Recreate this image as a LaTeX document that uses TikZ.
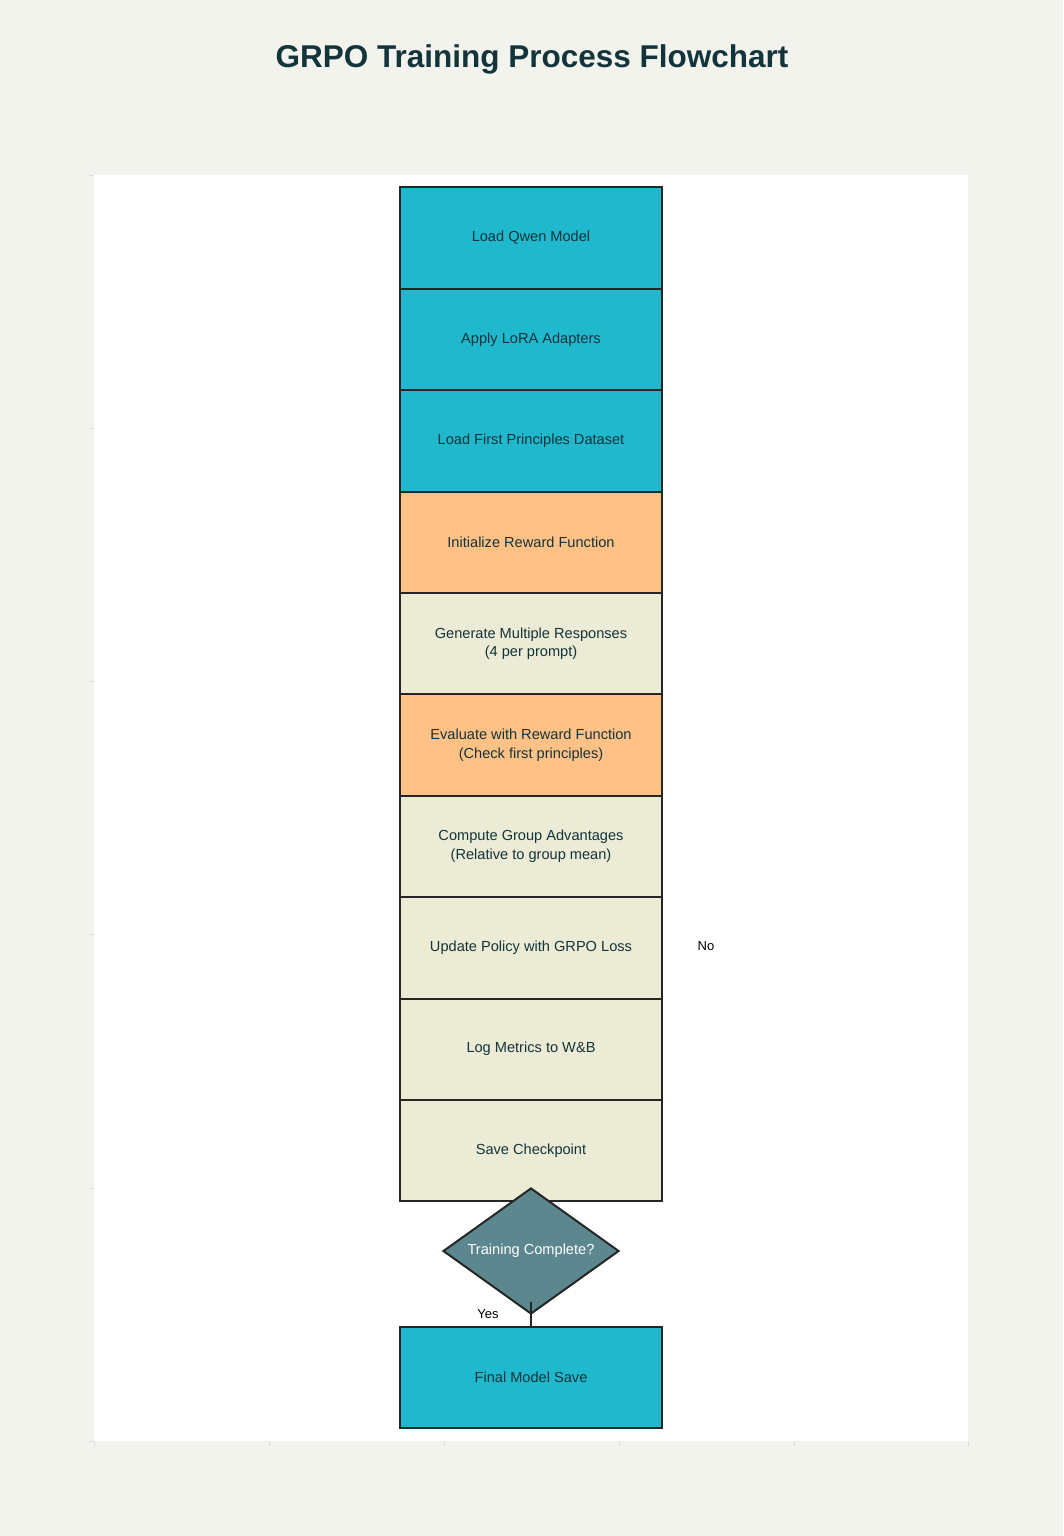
\documentclass[tikz,border=0pt]{standalone}
\usepackage{fontspec}
\setmainfont{Liberation Sans}
\usetikzlibrary{shapes.geometric}
\definecolor{bgc}{HTML}{F3F3EE}
\definecolor{cyanf}{HTML}{1FB8CD}
\definecolor{orangef}{HTML}{FFC185}
\definecolor{beigef}{HTML}{ECEBD5}
\definecolor{diamf}{HTML}{5D878F}
\definecolor{txt}{HTML}{13343B}
\definecolor{tickc}{HTML}{DCDCD6}
\tikzset{
  box/.style={draw=black!85, line width=2pt, minimum width=262pt, minimum height=101.4pt,
    inner sep=0pt, align=center, text=txt, font=\fontsize{14.6}{18.5}\selectfont},
  cbox/.style={box, fill=cyanf},
  obox/.style={box, fill=orangef},
  bbox/.style={box, fill=beigef},
  decision/.style={shape=diamond, draw=black!85, line width=2pt, fill=diamf, aspect=1.4,
    minimum width=176pt, minimum height=126pt, inner sep=0pt, text=white,
    font=\fontsize{14.6}{17}\selectfont},
  lbl/.style={text=black, font=\fontsize{13}{15}\selectfont, inner sep=0pt},
  tick/.style={draw=tickc, line width=1pt}
}
\begin{document}
\begin{tikzpicture}[x=1pt,y=-1pt]
\useasboundingbox (0,0) rectangle (1063,1536);
\fill[bgc] (0,0) rectangle (1063,1536);
\fill[white] (94,175) rectangle (968,1441);
% ticks
\foreach \yy in {175,428,681,934,1188,1441} \draw[tick] (89,\yy) -- (94,\yy);
\foreach \xx in {94,269,444,619,794,968} \draw[tick] (\xx,1441) -- (\xx,1446);
\node[text=txt, font=\fontsize{31.5}{36}\selectfont\bfseries, inner sep=0pt] (title) at (532,59) {GRPO Training Process Flowchart};
\node[cbox] (n1) at (531,238) {Load Qwen Model};
\node[cbox] (n2) at (531,339.4) {Apply LoRA Adapters};
\node[cbox] (n3) at (531,440.8) {Load First Principles Dataset};
\node[obox] (n4) at (531,542.2) {Initialize Reward Function};
\node[bbox] (n5) at (531,643.6) {Generate Multiple Responses\\(4 per prompt)};
\node[obox] (n6) at (531,745) {Evaluate with Reward Function\\(Check first principles)};
\node[bbox] (n7) at (531,846.4) {Compute Group Advantages\\(Relative to group mean)};
\node[bbox] (n8) at (531,947.8) {Update Policy with GRPO Loss};
\node[bbox] (n9) at (531,1049.2) {Log Metrics to W\&B};
\node[bbox] (n10) at (531,1150.6) {Save Checkpoint};
\node[decision] (d) at (531,1251) {Training Complete?};
\node[cbox] (fin) at (531,1377.5) {Final Model Save};
\draw[line width=2pt, draw=black!85] (531,1302) -- (fin.north);
\node[lbl] (yes) at (488,1314) {Yes};
\node[lbl] (no) at (706,946) {No};
\end{tikzpicture}
\end{document}
